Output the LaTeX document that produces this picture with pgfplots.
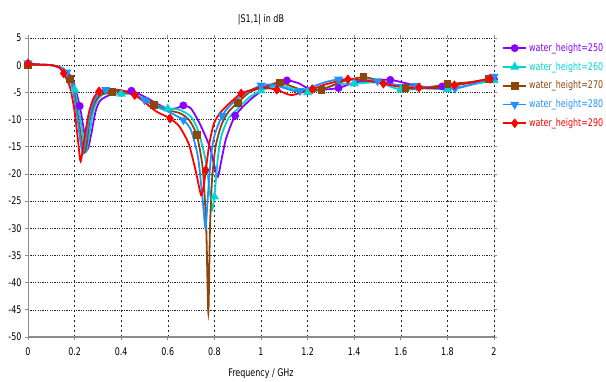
\documentclass[border=0pt]{standalone}
\usepackage{pgfplots}
\pgfplotsset{compat=1.18}
\usepackage{fontspec}
\setmainfont{DejaVu Sans}[FakeStretch=0.76]
\definecolor{cpur}{RGB}{136,0,255}
\definecolor{ccya}{RGB}{0,212,212}
\definecolor{cbro}{RGB}{140,70,10}
\definecolor{cblu}{RGB}{30,144,255}
\definecolor{cred}{RGB}{255,0,0}
\definecolor{axgray}{RGB}{140,140,140}

% ---- data (frequency in GHz, |S11| in dB) ----
\pgfplotstableread{
f s
0 0.1
0.05 0.1
0.1 0
0.15 -0.6
0.19 -2.5
0.222 -7.5
0.24 -12
0.255 -15.5
0.27 -13
0.29 -8.5
0.31 -6.5
0.35 -5.5
0.4 -5.1
0.444 -4.7
0.5 -5.8
0.55 -7
0.6 -8
0.64 -7.9
0.667 -7.4
0.7 -8
0.74 -11
0.78 -15
0.8 -18.5
0.815 -20.5
0.83 -17.5
0.85 -13.5
0.889 -9.3
0.95 -6.5
1.0 -4.8
1.05 -3.5
1.111 -2.8
1.16 -3.3
1.2 -4.2
1.26 -4.5
1.333 -4.2
1.4 -3.2
1.48 -2.8
1.555 -2.7
1.65 -3.6
1.7 -4
1.778 -3.9
1.85 -3.5
1.92 -3.1
2.0 -2.6
}\dpur
\pgfplotstableread{
f s
0 0.1
0.222 -7.5
0.444 -4.7
0.667 -7.4
0.889 -9.3
1.111 -2.8
1.333 -4.2
1.555 -2.7
1.778 -3.9
2.0 -2.6
}\mpur

\pgfplotstableread{
f s
0 0.4
0.05 0.1
0.1 0
0.145 -0.5
0.17 -1.5
0.2 -4.5
0.225 -10
0.247 -16
0.26 -13.5
0.28 -8.5
0.3 -6.3
0.33 -5.2
0.4 -5.3
0.45 -5.3
0.5 -6.2
0.55 -7.3
0.6 -8.0
0.65 -8.2
0.7 -9.5
0.73 -12
0.76 -17
0.78 -23
0.79 -26.7
0.8 -24.2
0.815 -17
0.83 -13
0.86 -9.8
0.9 -8
0.95 -5.9
1.0 -4.7
1.05 -4.0
1.1 -3.9
1.15 -4.6
1.2 -5.0
1.27 -4.3
1.33 -3.5
1.4 -3.4
1.5 -3.2
1.6 -4.5
1.7 -4.3
1.8 -4.4
1.9 -3.6
2.0 -2.8
}\dcya
\pgfplotstableread{
f s
0 0.4
0.2 -4.5
0.4 -5.3
0.6 -8.0
0.8 -24.2
1.0 -4.7
1.2 -5.0
1.4 -3.4
1.6 -4.5
1.8 -4.4
2.0 -2.8
}\mcya

\pgfplotstableread{
f s
0 0.1
0.05 0.1
0.1 0
0.14 -0.6
0.18 -2.6
0.2 -5.5
0.22 -11
0.238 -16
0.25 -15
0.265 -10
0.285 -7
0.31 -5.5
0.36 -4.9
0.4 -4.8
0.45 -5.4
0.5 -6.5
0.54 -7.3
0.6 -8.3
0.65 -8.8
0.69 -10
0.724 -12.8
0.75 -19
0.765 -30
0.774 -45.5
0.781 -30
0.79 -21
0.805 -15
0.83 -11
0.86 -8.6
0.9 -6.9
0.95 -5
1.0 -4.2
1.08 -3.2
1.15 -4.2
1.2 -4.7
1.26 -4.5
1.35 -3
1.44 -2.2
1.52 -3
1.62 -4.2
1.7 -4.2
1.8 -3.5
1.9 -3.1
1.98 -2.5
2.0 -2.5
}\dbro
\pgfplotstableread{
f s
0 0.1
0.18 -2.6
0.36 -4.9
0.54 -7.3
0.724 -12.8
0.9 -6.9
1.08 -3.2
1.26 -4.5
1.44 -2.2
1.62 -4.2
1.8 -3.5
1.98 -2.5
}\mbro

\pgfplotstableread{
f s
0 0.4
0.05 0.1
0.1 0
0.135 -0.4
0.167 -1.3
0.19 -4
0.21 -9
0.225 -14
0.235 -16.3
0.25 -13
0.27 -8.5
0.29 -6
0.333 -4.5
0.4 -4.7
0.45 -5.2
0.5 -6.4
0.55 -7.6
0.6 -8.5
0.667 -10.1
0.7 -12
0.73 -17
0.75 -25
0.762 -30
0.772 -24
0.785 -17
0.8 -13
0.833 -9.3
0.87 -7.3
0.92 -5.5
1.0 -3.7
1.05 -3.6
1.1 -4.2
1.15 -4.8
1.2 -4.3
1.27 -3.2
1.333 -2.6
1.4 -2.7
1.5 -2.9
1.58 -3.6
1.667 -3.8
1.75 -4.2
1.833 -4.3
1.9 -3.6
2.0 -2.1
}\dblu
\pgfplotstableread{
f s
0 0.4
0.167 -1.3
0.333 -4.5
0.5 -6.4
0.667 -10.1
0.833 -9.3
1.0 -3.7
1.167 -4.7
1.333 -2.6
1.5 -2.9
1.667 -3.8
1.833 -4.3
2.0 -2.1
}\mblu

\pgfplotstableread{
f s
0 0.3
0.05 0.1
0.1 0
0.13 -0.3
0.153 -1.5
0.18 -4
0.2 -8.5
0.215 -14
0.226 -17.7
0.24 -14
0.26 -9
0.28 -6.2
0.305 -4.8
0.35 -4.5
0.4 -4.6
0.458 -5.5
0.5 -6.8
0.55 -8.5
0.61 -9.8
0.65 -11.3
0.69 -14.5
0.72 -19.5
0.743 -23.9
0.755 -22
0.763 -19.3
0.78 -14
0.8 -10.5
0.83 -8.5
0.87 -6.8
0.915 -5.2
0.97 -4.4
1.0 -4.1
1.068 -4.5
1.13 -5.5
1.22 -4.4
1.28 -3.5
1.373 -2.6
1.45 -2.8
1.525 -3.4
1.6 -4.0
1.678 -4.1
1.75 -4.2
1.83 -3.7
1.9 -3.2
1.983 -2.5
2.0 -2.4
}\dred
\pgfplotstableread{
f s
0 0.3
0.153 -1.5
0.305 -4.8
0.458 -5.5
0.61 -9.8
0.763 -19.3
0.915 -5.2
1.068 -4.5
1.22 -4.4
1.373 -2.6
1.525 -3.4
1.678 -4.1
1.83 -3.7
1.983 -2.5
}\mred

\begin{document}
\begin{tikzpicture}[font=\fontsize{10.5}{12}\selectfont]
\begin{axis}[
  scale only axis,
  width=466pt, height=299pt,
  xmin=0, xmax=2, ymin=-50, ymax=5,
  xtick={0,0.2,0.4,0.6,0.8,1,1.2,1.4,1.6,1.8,2},
  ytick={-50,-45,-40,-35,-30,-25,-20,-15,-10,-5,0,5},
  /pgf/number format/assume math mode=true,
  tick label style={font=\fontsize{10.5}{12}\selectfont},
  tick align=outside,
  major tick length=3pt,
  tick style={axgray, line width=0.8pt},
  axis line style={draw=none},
  grid=major,
  every axis x grid/.style={black!85, line width=0.5pt, dash pattern=on 2.5pt off 2.5pt},
  every axis y grid/.style={black!85, line width=0.5pt, dash pattern=on 1.2pt off 1.2pt},
  title={|S1,1| in dB},
  title style={at={(0.5,1)}, anchor=center, yshift=12pt},
  xlabel={Frequency / GHz},
  xlabel style={at={(0.5,0)}, anchor=center, yshift=-37pt},
  xticklabel shift=4pt,
  legend style={draw=none, fill=none, at={(1.011,0.996)}, anchor=north west,
    font=\fontsize{10.5}{12}\selectfont, row sep=5.3pt},
  legend cell align=left,
  legend image code/.code={\draw[mark repeat=2,mark phase=2,#1] plot coordinates {(0pt,0pt) (11.5pt,0pt) (23pt,0pt)};},
  every axis plot/.append style={line width=1.8pt},
]
\addlegendimage{cpur, mark=*, mark size=3pt}
\addlegendentry{\textcolor{cpur}{water\_height=250}}
\addlegendimage{ccya, mark=triangle*, mark size=3.5pt}
\addlegendentry{\textcolor{ccya}{water\_height=260}}
\addlegendimage{cbro, mark=square*, mark size=3pt}
\addlegendentry{\textcolor{cbro}{water\_height=270}}
\addlegendimage{cblu, mark=triangle*, mark size=3.5pt, mark options={rotate=180}}
\addlegendentry{\textcolor{cblu}{water\_height=280}}
\addlegendimage{cred, mark=diamond*, mark size=3.5pt}
\addlegendentry{\textcolor{cred}{water\_height=290}}

\addplot[cpur, no markers, smooth, tension=0.4, forget plot] table[x=f,y=s] {\dpur};
\addplot[cpur, only marks, mark=*, mark size=3pt, forget plot] table[x=f,y=s] {\mpur};
\addplot[ccya, no markers, smooth, tension=0.4, forget plot] table[x=f,y=s] {\dcya};
\addplot[ccya, only marks, mark=triangle*, mark size=3.5pt, forget plot] table[x=f,y=s] {\mcya};
\addplot[cbro, no markers, smooth, tension=0.4, forget plot] table[x=f,y=s] {\dbro};
\addplot[cbro, only marks, mark=square*, mark size=3pt, forget plot] table[x=f,y=s] {\mbro};
\addplot[cblu, no markers, smooth, tension=0.4, forget plot] table[x=f,y=s] {\dblu};
\addplot[cblu, only marks, mark=triangle*, mark size=3.5pt, mark options={rotate=180}, forget plot] table[x=f,y=s] {\mblu};
\addplot[cred, no markers, smooth, tension=0.4, forget plot] table[x=f,y=s] {\dred};
\addplot[cred, only marks, mark=diamond*, mark size=3.5pt, forget plot] table[x=f,y=s] {\mred};

\draw[axgray, line width=1.5pt] (rel axis cs:0,0) -- (rel axis cs:0,1);
\draw[axgray, line width=2.2pt] (rel axis cs:0,0) -- (rel axis cs:1,0);
\draw[black!70, line width=0.8pt] (rel axis cs:1,0) -- (rel axis cs:1,1);
\end{axis}
\pgfresetboundingbox
\path[use as bounding box] (-28pt,-44pt) rectangle (578pt,337pt);
\end{tikzpicture}
\end{document}
